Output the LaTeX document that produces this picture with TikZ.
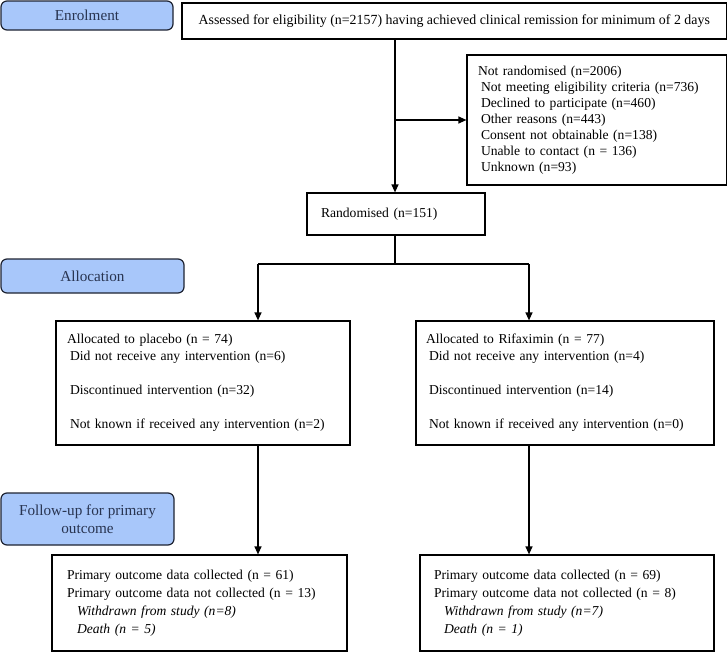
\documentclass[tikz,border=0pt]{standalone}
\usepackage{fontspec}
\setmainfont{Liberation Serif}
\usetikzlibrary{arrows.meta}
\definecolor{phaseblue}{RGB}{168,199,250}
\definecolor{phaseline}{RGB}{30,35,50}
\definecolor{phasetext}{RGB}{40,52,80}
\begin{document}
\begin{tikzpicture}[x=1pt,y=-1pt,
  box/.style={draw, line width=1.2pt, inner ysep=0pt, anchor=center, font=\fontsize{13.6}{17}\selectfont},
  phase/.style={draw=phaseline, line width=1.2pt, fill=phaseblue, rounded corners=6pt, text=phasetext,
    align=center, inner sep=0pt, anchor=center, font=\fontsize{15.2}{18.5}\selectfont},
  conn/.style={line width=1.2pt},
  arr/.style={line width=1.2pt, -{Triangle[length=8pt,width=7pt]}}]
\useasboundingbox (0,0) rectangle (728,653);

% phase labels
\node[phase, minimum width=172pt, minimum height=29pt] (enrol) at (87,15.5) {Enrolment};
\node[phase, minimum width=183pt, minimum height=34pt] (alloc) at (92.5,276) {Allocation};
\node[phase, minimum width=173pt, minimum height=52pt] (follow) at (87.5,519) {Follow-up for primary\\outcome};

% boxes
\node[box, minimum width=544.5pt, minimum height=36pt, align=center, inner xsep=0pt,
  font=\fontsize{13.9}{17}\selectfont] (assess) at (454.25,21)
  {Assessed for eligibility (n=2157) having achieved clinical remission for minimum of 2 days};

\node[box, minimum height=130pt, inner xsep=11pt, text width=237.5pt, align=left,
  font=\fontsize{13.6}{16}\selectfont] (notrand) at (596.75,120)
  {Not randomised (n=2006)\\
   \hspace*{3pt}Not meeting eligibility criteria (n=736)\\
   \hspace*{3pt}Declined to participate (n=460)\\
   \hspace*{3pt}Other reasons (n=443)\\
   \hspace*{3pt}Consent not obtainable (n=138)\\
   \hspace*{3pt}Unable to contact (n = 136)\\
   \hspace*{3pt}Unknown (n=93)};

\node[box, minimum height=42pt, inner xsep=14pt, text width=150pt, align=left] (rand) at (396,214)
  {Randomised (n=151)};

\node[box, minimum height=124pt, inner xsep=11pt, text width=272pt, align=left] (placebo) at (203,383)
  {Allocated to placebo (n = 74)\\
   \hspace*{3pt}Did not receive any intervention (n=6)\\[17pt]
   \hspace*{3pt}Discontinued intervention (n=32)\\[17pt]
   \hspace*{3pt}Not known if received any intervention (n=2)};

\node[box, minimum height=124pt, inner xsep=10pt, text width=278pt, align=left] (rifax) at (565,383)
  {Allocated to Rifaximin (n = 77)\\
   \hspace*{3pt}Did not receive any intervention (n=4)\\[17pt]
   \hspace*{3pt}Discontinued intervention (n=14)\\[17pt]
   \hspace*{3pt}Not known if received any intervention (n=0)};

\node[box, minimum height=96pt, inner xsep=15pt, text width=265pt, align=left,
  font=\fontsize{13.6}{18}\selectfont] (outL) at (199.5,603)
  {Primary outcome data collected (n = 61)\\
   Primary outcome data not collected (n = 13)\\
   \hspace*{10pt}\textit{Withdrawn from study (n=8)}\\
   \hspace*{10pt}\textit{Death (n = 5)}};

\node[box, minimum height=96pt, inner xsep=14pt, text width=266pt, align=left,
  font=\fontsize{13.6}{18}\selectfont] (outR) at (567,603)
  {Primary outcome data collected (n = 69)\\
   Primary outcome data not collected (n = 8)\\
   \hspace*{10pt}\textit{Withdrawn from study (n=7)}\\
   \hspace*{10pt}\textit{Death (n = 1)}};

% connectors
\coordinate (split) at (395,264);
\coordinate (bl) at (258,264);
\coordinate (br) at (529,264);
\draw[arr] (split |- assess.south) -- (split |- rand.north);
\draw[arr] (split |- notrand.west) -- (notrand.west);
\draw[conn] (split |- rand.south) -- (split);
\draw[conn] (bl) -- (br);
\draw[arr] (bl) -- (bl |- placebo.north);
\draw[arr] (br) -- (br |- rifax.north);
\draw[arr] (bl |- placebo.south) -- (bl |- outL.north);
\draw[arr] (br |- rifax.south) -- (br |- outR.north);
\end{tikzpicture}
\end{document}
